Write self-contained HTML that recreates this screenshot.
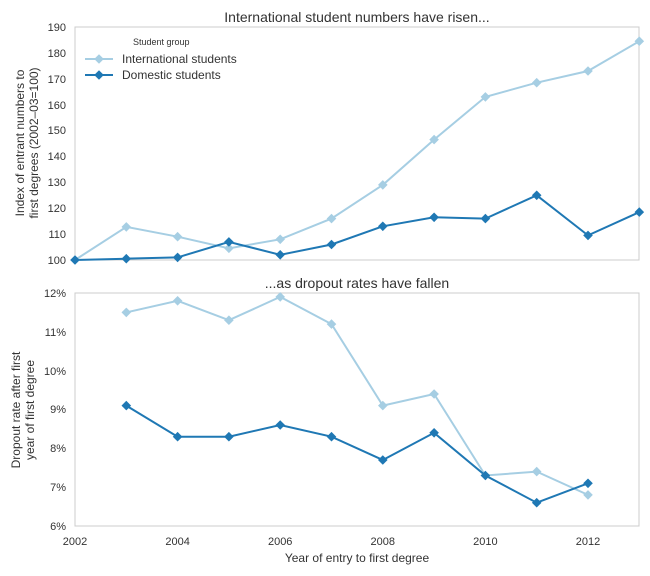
<!DOCTYPE html>
<html><head><meta charset="utf-8"><style>
body{margin:0;background:#fff;}
svg{display:block;font-family:"Liberation Sans",sans-serif;}
text{fill:#333;}
</style></head><body>
<svg width="650" height="576" viewBox="0 0 650 576">
<defs>
<polygon id="dl" points="0,-4.8 4.8,0 0,4.8 -4.8,0" fill="#a6cee3"/>
<polygon id="dd" points="0,-4.8 4.8,0 0,4.8 -4.8,0" fill="#1f78b4"/>
</defs>
<!-- top panel -->
<rect x="75" y="27" width="564" height="233" fill="none" stroke="#ccc"/>
<text x="357" y="22" font-size="14" text-anchor="middle">International student numbers have risen...</text>
<g font-size="11" text-anchor="end">
<text x="66" y="264">100</text><text x="66" y="238">110</text><text x="66" y="212">120</text><text x="66" y="186">130</text><text x="66" y="160">140</text><text x="66" y="134">150</text><text x="66" y="109">160</text><text x="66" y="83">170</text><text x="66" y="57">180</text><text x="66" y="31">190</text>
</g>
<text transform="translate(24,143) rotate(-90)" font-size="12" text-anchor="middle">Index of entrant numbers to</text>
<text transform="translate(38,143) rotate(-90)" font-size="12" text-anchor="middle">first degrees (2002–03=100)</text>
<polyline fill="none" stroke="#a6cee3" stroke-width="2" points="75,260 126.3,226.9 177.6,236.7 228.9,248.3 280.2,239.3 331.5,218.6 382.8,184.9 434.1,139.6 485.4,96.9 536.7,82.7 588,71 639.3,41.2"/>
<polyline fill="none" stroke="#1f78b4" stroke-width="2" points="75,260 126.3,258.7 177.6,257.4 228.9,241.9 280.2,254.8 331.5,244.5 382.8,226.3 434.1,217.3 485.4,218.6 536.7,195.3 588,235.4 639.3,212.1"/>
<g>
<use href="#dl" x="75" y="260"/><use href="#dl" x="126.3" y="226.9"/><use href="#dl" x="177.6" y="236.7"/><use href="#dl" x="228.9" y="248.3"/><use href="#dl" x="280.2" y="239.3"/><use href="#dl" x="331.5" y="218.6"/><use href="#dl" x="382.8" y="184.9"/><use href="#dl" x="434.1" y="139.6"/><use href="#dl" x="485.4" y="96.9"/><use href="#dl" x="536.7" y="82.7"/><use href="#dl" x="588" y="71"/><use href="#dl" x="639.3" y="41.2"/>
<use href="#dd" x="75" y="260"/><use href="#dd" x="126.3" y="258.7"/><use href="#dd" x="177.6" y="257.4"/><use href="#dd" x="228.9" y="241.9"/><use href="#dd" x="280.2" y="254.8"/><use href="#dd" x="331.5" y="244.5"/><use href="#dd" x="382.8" y="226.3"/><use href="#dd" x="434.1" y="217.3"/><use href="#dd" x="485.4" y="218.6"/><use href="#dd" x="536.7" y="195.3"/><use href="#dd" x="588" y="235.4"/><use href="#dd" x="639.3" y="212.1"/>
</g>
<!-- legend -->
<text x="133" y="45" font-size="9">Student group</text>
<line x1="85" y1="59" x2="113" y2="59" stroke="#a6cee3" stroke-width="2"/><use href="#dl" x="99" y="59"/>
<text x="122" y="63" font-size="12">International students</text>
<line x1="85" y1="75" x2="113" y2="75" stroke="#1f78b4" stroke-width="2"/><use href="#dd" x="99" y="75"/>
<text x="122" y="79" font-size="12">Domestic students</text>
<!-- bottom panel -->
<rect x="75" y="293" width="564" height="233" fill="none" stroke="#ccc"/>
<text x="357" y="288" font-size="14" text-anchor="middle">...as dropout rates have fallen</text>
<g font-size="11" text-anchor="end">
<text x="66" y="530">6%</text><text x="66" y="491">7%</text><text x="66" y="452">8%</text><text x="66" y="413">9%</text><text x="66" y="375">10%</text><text x="66" y="336">11%</text><text x="66" y="297">12%</text>
</g>
<text transform="translate(20,410) rotate(-90)" font-size="12" text-anchor="middle">Dropout rate after first</text>
<text transform="translate(34,410) rotate(-90)" font-size="12" text-anchor="middle">year of first degree</text>
<polyline fill="none" stroke="#a6cee3" stroke-width="2" points="126.3,312.4 177.6,300.8 228.9,320.2 280.2,296.9 331.5,324.1 382.8,405.6 434.1,394 485.4,475.5 536.7,471.6 588,494.9"/>
<polyline fill="none" stroke="#1f78b4" stroke-width="2" points="126.3,405.6 177.6,436.7 228.9,436.7 280.2,425 331.5,436.7 382.8,460 434.1,432.8 485.4,475.5 536.7,502.7 588,483.3"/>
<g>
<use href="#dl" x="126.3" y="312.4"/><use href="#dl" x="177.6" y="300.8"/><use href="#dl" x="228.9" y="320.2"/><use href="#dl" x="280.2" y="296.9"/><use href="#dl" x="331.5" y="324.1"/><use href="#dl" x="382.8" y="405.6"/><use href="#dl" x="434.1" y="394"/><use href="#dl" x="485.4" y="475.5"/><use href="#dl" x="536.7" y="471.6"/><use href="#dl" x="588" y="494.9"/>
<use href="#dd" x="126.3" y="405.6"/><use href="#dd" x="177.6" y="436.7"/><use href="#dd" x="228.9" y="436.7"/><use href="#dd" x="280.2" y="425"/><use href="#dd" x="331.5" y="436.7"/><use href="#dd" x="382.8" y="460"/><use href="#dd" x="434.1" y="432.8"/><use href="#dd" x="485.4" y="475.5"/><use href="#dd" x="536.7" y="502.7"/><use href="#dd" x="588" y="483.3"/>
</g>
<g font-size="11" text-anchor="middle">
<text x="75" y="545">2002</text><text x="177.6" y="545">2004</text><text x="280.2" y="545">2006</text><text x="382.8" y="545">2008</text><text x="485.4" y="545">2010</text><text x="588" y="545">2012</text>
</g>
<text x="357" y="562" font-size="12" text-anchor="middle">Year of entry to first degree</text>
</svg>
</body></html>
